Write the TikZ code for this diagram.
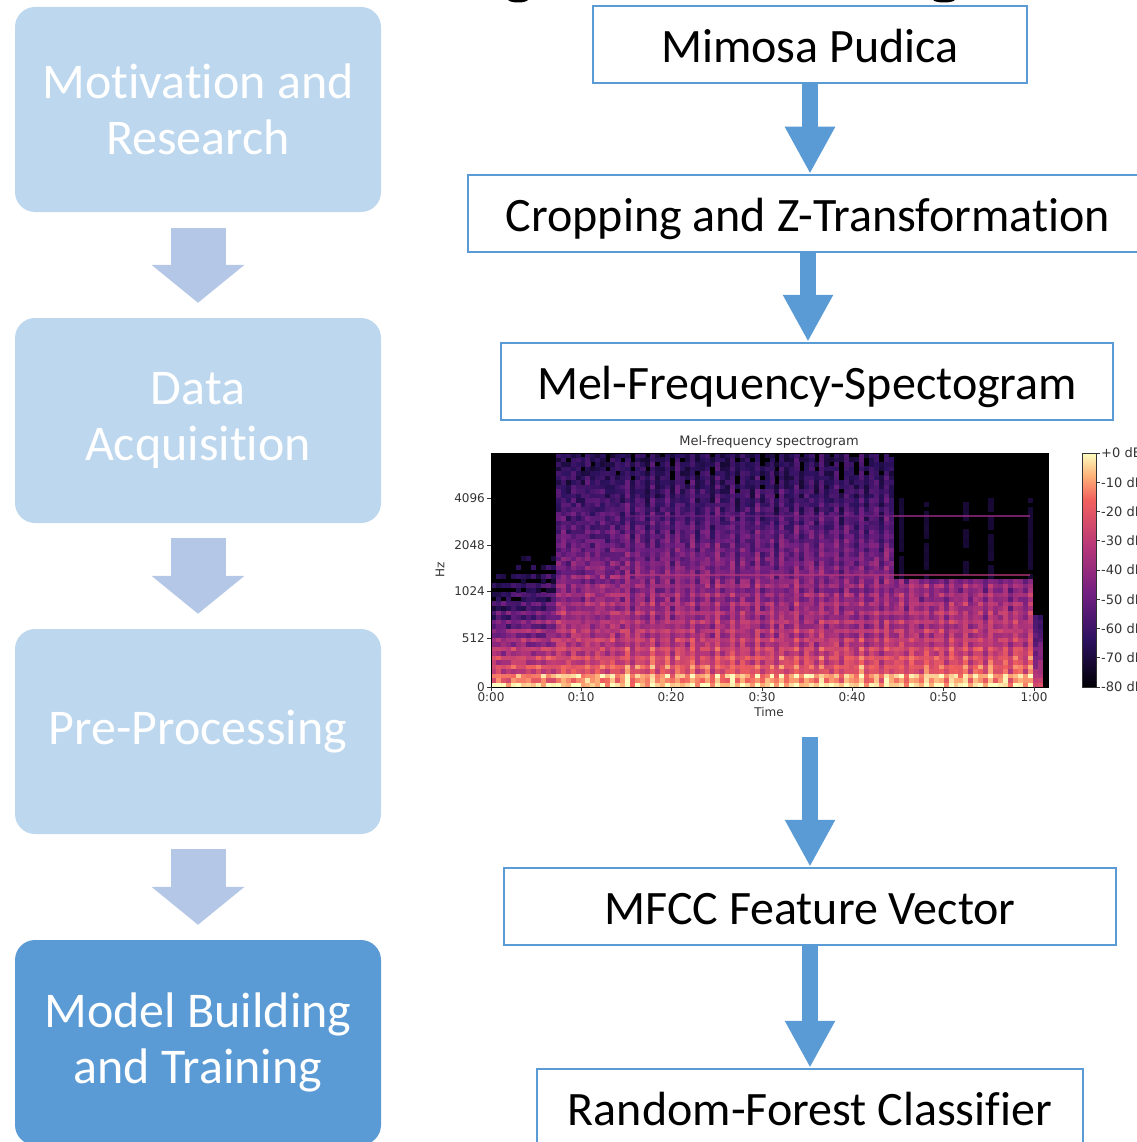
\documentclass[tikz,border=0pt]{standalone}
\usepackage{fontspec}
\setmainfont{Carlito}[Ligatures=NoCommon]
\newfontfamily\plotfont{DejaVu Sans}
\usetikzlibrary{arrows.meta,calc}

\definecolor{paleblue}{HTML}{BDD7EE}
\definecolor{chevron}{HTML}{B4C7E7}
\definecolor{accent}{HTML}{5B9BD5}
\definecolor{ticktext}{HTML}{333333}
% magma colour map stops
\definecolor{mgA}{HTML}{000004}
\definecolor{mgB}{HTML}{2C115F}
\definecolor{mgC}{HTML}{721F81}
\definecolor{mgD}{HTML}{B73779}
\definecolor{mgE}{HTML}{F1605D}
\definecolor{mgF}{HTML}{FEB078}
\definecolor{mgG}{HTML}{FCFDBF}

% sets colour mgcell from a value in [0,1] along the magma map
\newcommand\setmagma[1]{%
  \pgfmathsetmacro\mgv{max(0,min(1,#1))}%
  \ifdim\mgv pt<0.2pt
    \pgfmathsetmacro\mgq{\mgv/0.2*100}\colorlet{mgcell}{mgB!\mgq!mgA}%
  \else\ifdim\mgv pt<0.4pt
    \pgfmathsetmacro\mgq{(\mgv-0.2)/0.2*100}\colorlet{mgcell}{mgC!\mgq!mgB}%
  \else\ifdim\mgv pt<0.6pt
    \pgfmathsetmacro\mgq{(\mgv-0.4)/0.2*100}\colorlet{mgcell}{mgD!\mgq!mgC}%
  \else\ifdim\mgv pt<0.8pt
    \pgfmathsetmacro\mgq{(\mgv-0.6)/0.2*100}\colorlet{mgcell}{mgE!\mgq!mgD}%
  \else\ifdim\mgv pt<0.9pt
    \pgfmathsetmacro\mgq{(\mgv-0.8)/0.1*100}\colorlet{mgcell}{mgF!\mgq!mgE}%
  \else
    \pgfmathsetmacro\mgq{(\mgv-0.9)/0.1*100}\colorlet{mgcell}{mgG!\mgq!mgF}%
  \fi\fi\fi\fi\fi}

\begin{document}
\begin{tikzpicture}[x=1pt,y=-1pt,
  stage/.style={rectangle, rounded corners=20pt, fill=paleblue, draw=none,
    text=white, minimum width=366pt, minimum height=205pt, inner sep=0pt,
    align=center, font=\fontsize{50}{56}\selectfont},
  procbox/.style={rectangle, draw=accent, line width=2.5pt, fill=white,
    minimum height=77pt, inner sep=0pt, text=black,
    text height=40pt, text depth=4pt,
    font=\fontsize{48}{52}\selectfont},
  chevarrow/.style={draw=chevron, line width=55pt,
    -{Triangle[length=38pt,width=91pt]}},
  flow/.style={draw=accent, line width=16pt,
    -{Triangle[length=47pt,width=47pt]}},
  ticklabel/.style={font=\plotfont\fontsize{12}{14}\selectfont, text=ticktext, inner sep=1pt},
]
\useasboundingbox (0,0) rectangle (1136,1142);

% descenders of the heading above
\fill[black] (518,-0.5) ellipse [x radius=10pt, y radius=3pt];
\fill[black] (944,-0.5) ellipse [x radius=11pt, y radius=3pt];

% ---------- stages on the left ----------
\node[stage] (s1) at (198,109.5) {Motivation and\\Research};
\node[stage] (s2) at (198,420.5) {Data\\Acquisition};
\node[stage] (s3) at (198,731.5) {Pre-Processing};
\node[stage, fill=accent] (s4) at (198,1042.5) {Model Building\\and Training};

\draw[chevarrow] ($(s1.south)+(0,16)$) -- ($(s2.north)+(0,-15)$);
\draw[chevarrow] ($(s2.south)+(0,15)$) -- ($(s3.north)+(0,-15)$);
\draw[chevarrow] ($(s3.south)+(0,15)$) -- ($(s4.north)+(0,-15)$);

% ---------- processing chain on the right ----------
\node[procbox, minimum width=434pt] (p1) at (810,44.5) {Mimosa Pudica};
\node[procbox, minimum width=680pt] (p2) at (808,213.5) {Cropping and Z-Transformation};
\node[procbox, minimum width=612pt] (p3) at (807,381.5) {Mel-Frequency-Spectogram};
\node[minimum width=600pt, minimum height=304pt, inner sep=0pt] (spec) at (810,585) {};
\node[procbox, minimum width=612pt] (p4) at (810,906.5) {MFCC Feature Vector};
\node[procbox, minimum width=546pt] (p5) at (810,1107.5) {Random-Forest Classifier};

% ---------- mel spectrogram ----------
\fill[black] (491,453) rectangle (1048,687);
\begin{scope}
\clip (491,453) rectangle (1048,687);
\begin{scope}[shift={(491,687)}]
\pgfmathsetseed{7}
\foreach \i in {0,...,111}{
  \pgfmathsetmacro\sgs{sin(\i*137.508)}%
  \foreach \j in {0,...,51}{
    \pgfmathsetmacro\sgt{(\i+0.5)/112}%
    \pgfmathsetmacro\sgf{(\j+0.5)/52}%
    \pgfmathsetmacro\sgn{rnd-0.5}%
    \pgfmathsetmacro\sgh{mod(\j,2)==0 ? 1 : -1}%
    \pgfmathsetmacro\sgb{\sgf<0.2 ? 0.86-1.2*\sgf : 0.62-0.56*(\sgf-0.2)}%
    \pgfmathsetmacro\sgv{(\sgt<0.117 ? (\sgf<0.5+0.9*\sgt ? 0.82-0.85*\sgf/(0.5+0.9*\sgt)+0.2*\sgn+0.08*\sgh : 0.04*\sgn) :
      (\sgt<0.24 ? \sgb-0.02+0.2*\sgn+0.04*\sgs+(\sgf<0.5 ? 0.05*\sgh : 0) :
      (\sgt<0.72 ? \sgb-0.02+0.16*\sgn+0.09*\sgs+(\sgf<0.45 ? 0.04*\sgh : 0) :
      (\sgt<0.975 ? (\sgf<0.47 ? \sgb+0.16*\sgn+0.08*\sgs+0.04*\sgh :
          (\sgs>0.9 && \sgf<0.8 ? 0.105+0.02*\sgn : 0)) :
      (\sgt<0.99 ? (\sgf<0.3 ? 0.6-1.2*\sgf+0.15*\sgn : 0) : 0)))))
      + (\sgf<0.06 ? 0.08 : 0)}%
    \ifdim\sgv pt>0.1pt
      \setmagma{\sgv}%
      \fill[mgcell] (\i*4.973,-\j*4.5) rectangle ++(5.3,-4.9);
    \fi
  }
}
\end{scope}
% thin harmonic lines across the later part
\draw[mgD, line width=1.6pt, opacity=0.7] (625,575) -- (1030,575);
\draw[mgC!60!mgD, line width=1.4pt, opacity=0.8] (893,516) -- (1030,516);
\draw[mgC, line width=1.2pt, opacity=0.6] (625,516) -- (893,516);
\end{scope}
\draw[black, line width=0.8pt] (491,453) rectangle (1048,687);

\node[ticklabel, font=\plotfont\fontsize{13}{15}\selectfont] (stitle) at (769,442) {Mel-frequency spectrogram};
\foreach \yy/\lab [count=\k] in {498/4096,545/2048,591/1024,638/512,687/0}{
  \draw[ticktext, line width=0.7pt] (487,\yy) -- (491,\yy);
  \node[ticklabel, anchor=east] (ytl\k) at (486,\yy) {\lab};
}
\foreach \xx/\lab [count=\k] in {491/0:00,581/0:10,671/0:20,762/0:30,852/0:40,943/0:50,1034/1:00}{
  \draw[ticktext, line width=0.7pt] (\xx,687) -- (\xx,691);
  \node[ticklabel, anchor=north] (xtl\k) at (\xx,691) {\lab};
}
\node[ticklabel, anchor=north] (xlab) at (769,706) {Time};
\node[ticklabel, rotate=90] (ylab) at (440,570) {Hz};

% colour bar
\shade[bottom color=mgA, top color=mgB] (1082,687) rectangle (1096,640.2);
\shade[bottom color=mgB, top color=mgC] (1082,640.2) rectangle (1096,593.4);
\shade[bottom color=mgC, top color=mgD] (1082,593.4) rectangle (1096,546.6);
\shade[bottom color=mgD, top color=mgE] (1082,546.6) rectangle (1096,499.8);
\shade[bottom color=mgE, top color=mgF] (1082,499.8) rectangle (1096,476.4);
\shade[bottom color=mgF, top color=mgG] (1082,476.4) rectangle (1096,453);
\draw[ticktext, line width=0.6pt] (1082,453) rectangle (1096,687);
\foreach \lab [count=\k from 0] in {+0,-10,-20,-30,-40,-50,-60,-70,-80}{
  \draw[ticktext, line width=0.7pt] (1096,453+29.25*\k) -- (1100,453+29.25*\k);
  \node[ticklabel, anchor=west, font=\plotfont\fontsize{13}{15}\selectfont] (cbl\k) at (1100,453+29.25*\k) {\lab\ dB};
}

% ---------- flow arrows ----------
\draw[flow] (p1.south) -- (p2.north -| p1.south);
\draw[flow] (p2.south) -- (p3.north -| p2.south);
\draw[flow] (spec.south) -- (p4.north);
\draw[flow] (p4.south) -- (p5.north);
\end{tikzpicture}
\end{document}
